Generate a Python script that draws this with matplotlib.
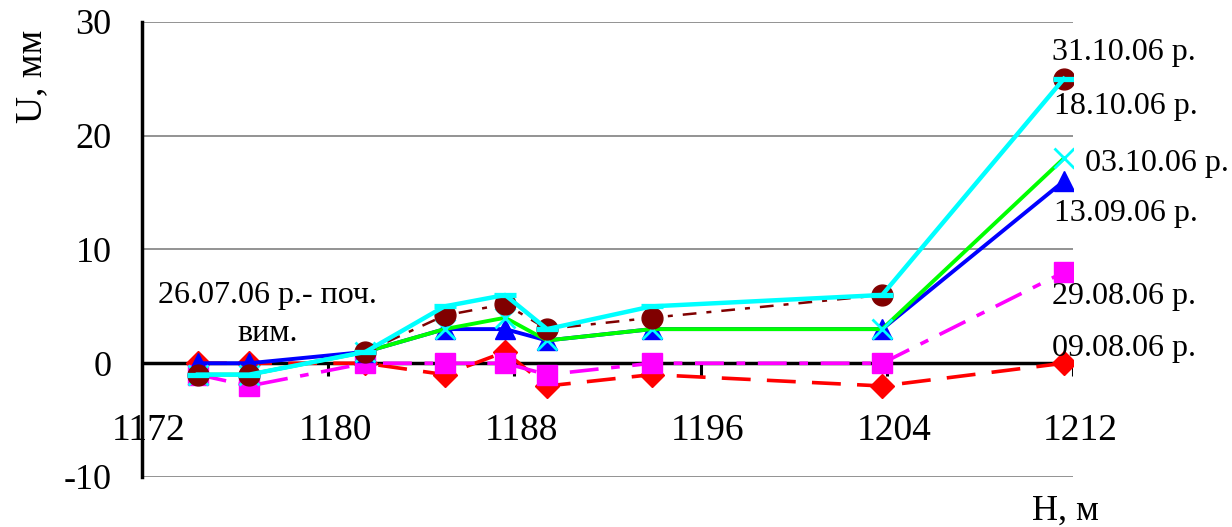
import matplotlib
matplotlib.use("Agg")
import matplotlib.pyplot as plt

plt.rcParams['font.family'] = ['Liberation Serif', 'DejaVu Serif']
plt.rcParams['axes.unicode_minus'] = False

# heights, m
h = [1174.4, 1176.6, 1181.6, 1185.0, 1187.6, 1189.4, 1193.9, 1203.8, 1211.6]

# displacements, mm
u_0908 = [0, 0, 0, -1, 1, -2, -1, -2, 0]
u_2908 = [-1, -2, 0, 0, 0, -1, 0, 0, 8]
u_1309 = [0, 0, 1, 3, 3, 2, 3, 3, 16]
u_0310 = [-1, -1, 1, 3, 4, 2, 3, 3, 18]
u_3110 = [-1, -1, 1, 4.2, 5.2, 3, 4, 6, 25]
u_1810 = [-1, -1, 1, 5, 6, 3, 5, 6, 25]

labels = ["09.08.06 р.", "29.08.06 р.", "13.09.06 р.", "03.10.06 р.",
          "18.10.06 р.", "31.10.06 р."]
label_pos = [(1211.1, 1.3), (1211.1, 5.9), (1211.2, 13.2), (1212.5, 17.6),
             (1211.2, 22.6), (1211.1, 27.3)]

x_ticks = [1172, 1180, 1188, 1196, 1204, 1212]
y_ticks = [-10, 0, 10, 20, 30]

fig = plt.figure(figsize=(12.32, 5.27), dpi=100)
ax = fig.add_axes([0.1153, 0.0949, 0.7557, 0.8634])

ax.set_xlim(1172, 1212)
ax.set_ylim(-10, 30)

# gridlines
for yv in [-10, 10, 20, 30]:
    ax.axhline(yv, color='#808080', lw=1.2, zorder=1)

# series
ax.plot(h, u_0908, color='red', lw=2.6, dashes=(8, 4.5), marker='D', ms=12,
        mfc='red', mec='red', zorder=3)
ax.plot(h, u_2908, color='#ff00ff', lw=2.6, dashes=(8, 3.5, 2.4, 3.5),
        marker='s', ms=14, mfc='#ff00ff', mec='#ff00ff', zorder=4)
ax.plot(h, u_1309, color='#0000ff', lw=2.8, marker='^', ms=15,
        mfc='#0000ff', mec='#0000ff', zorder=5)
ax.plot(h, u_0310, color='#00ff00', lw=2.8, zorder=6)
ax.plot(h, u_0310, ls='none', marker='x', ms=15, mew=2.0, color='#00ffff',
        zorder=6)
ax.plot(h, u_3110, color='#800000', lw=1.8, dashes=(5.5, 4, 2, 4),
        marker='o', ms=15, mfc='#800000', mec='#800000', zorder=7)
ax.plot(h, u_1810, color='#00ffff', lw=3.2, marker='_', ms=16, mew=3.8,
        zorder=8)

# spines
for s in ['top', 'right', 'bottom']:
    ax.spines[s].set_visible(False)
ax.spines['left'].set_linewidth(2.5)
ax.spines['left'].set_zorder(9)
ax.axhline(0, color='black', lw=2.5, zorder=2)

ax.set_xticks(x_ticks)
ax.set_yticks(y_ticks)
ax.tick_params(axis='x', length=0, pad=0)
ax.tick_params(axis='y', length=0, pad=22, labelsize=26)
for lbl in ax.get_xticklabels():
    lbl.set_visible(False)
# x tick marks at y=0 and labels below axis
for t in x_ticks[1:]:
    ax.plot([t, t], [0, -1.1], color='black', lw=2.2, zorder=2,
            solid_capstyle='butt')
    ax.text(t + 0.3, -5.9, str(t), ha='center', va='center', fontsize=27)
ax.text(1172.3, -5.9, "1172", ha='center', va='center', fontsize=27, zorder=1)

for txt, (xp, yp) in zip(labels, label_pos):
    ax.text(xp, yp, txt, ha='left', va='center', fontsize=23)

ax.text(1177.4, 4.3, "26.07.06 р.- поч.\nвим.", ha='center', va='center',
        fontsize=23, linespacing=1.4)

fig.text(0.026, 0.855, "U, мм", rotation=90, ha='center', va='center',
         fontsize=27)
fig.text(0.865, 0.03, "H, м", ha='center', va='center', fontsize=26)

fig.savefig("out.png", dpi=100)
